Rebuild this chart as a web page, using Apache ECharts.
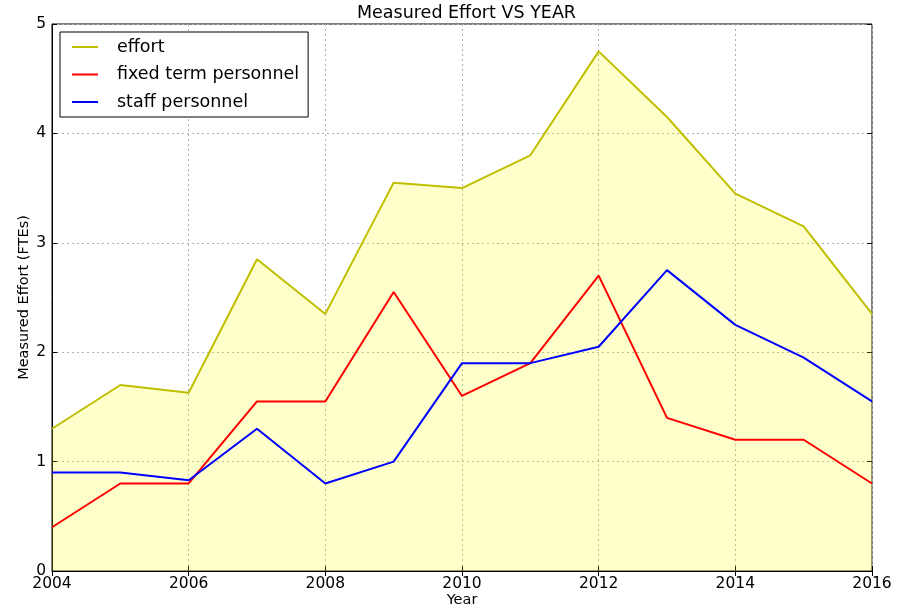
<!DOCTYPE html>
<html>
<head>
<meta charset="utf-8">
<script src="https://cdn.jsdelivr.net/npm/echarts@6/dist/echarts.min.js"></script>
<style>
  html, body { margin: 0; padding: 0; background: #fff; }
  #chart { width: 901px; height: 609px; }
</style>
</head>
<body>
<div id="chart"></div>
<script>
// Yearly measured effort (FTEs) and its split into personnel types
const years = [2004, 2005, 2006, 2007, 2008, 2009, 2010, 2011, 2012, 2013, 2014, 2015, 2016];
const effort = [1.3, 1.7, 1.63, 2.85, 2.35, 3.55, 3.5, 3.8, 4.75, 4.15, 3.45, 3.15, 2.35];
const fixedTerm = [0.4, 0.8, 0.8, 1.55, 1.55, 2.55, 1.6, 1.9, 2.7, 1.4, 1.2, 1.2, 0.8];
const staff = [0.9, 0.9, 0.83, 1.3, 0.8, 1.0, 1.9, 1.9, 2.05, 2.75, 2.25, 1.95, 1.55];
const seriesNames = ['effort', 'fixed term personnel', 'staff personnel'];

const pairs = vals => years.map((y, i) => [y, vals[i]]);
const FONT = 'DejaVu Sans';

const gridLine = { show: true, lineStyle: { color: '#b0b0b0', type: [2, 3], width: 1 } };
const tick = { show: true, inside: true, length: 5, lineStyle: { color: '#000' } };

const chart = echarts.init(document.getElementById('chart'), null, { renderer: 'canvas' });
chart.setOption({
  animation: false,
  backgroundColor: '#fff',
  textStyle: { fontFamily: FONT },
  title: {
    text: 'Measured Effort VS YEAR',
    left: 352,
    top: -1,
    textStyle: { fontFamily: FONT, fontSize: 17.5, fontWeight: 'normal', color: '#000' }
  },
  grid: {
    left: 52, right: 29, top: 24, bottom: 38,
    outerBoundsMode: 'none', containLabel: false,
    show: true, borderColor: '#000', borderWidth: 1, backgroundColor: 'transparent'
  },
  legend: {
    data: seriesNames,
    orient: 'vertical',
    left: 60, top: 32,
    padding: [6, 9, 6, 12],
    itemGap: 9.5,
    itemWidth: 26,
    itemHeight: 2,
    icon: 'rect',
    backgroundColor: '#fff',
    borderColor: '#000',
    borderWidth: 1,
    borderRadius: 0,
    textStyle: { fontFamily: FONT, fontSize: 17.5, color: '#000', padding: [0, 0, 0, 14] }
  },
  xAxis: [{
    type: 'value', min: 2004, max: 2016, interval: 2,
    name: 'Year', nameLocation: 'middle', nameGap: 22, nameMoveOverlap: false,
    nameTextStyle: { fontFamily: FONT, fontSize: 14.5, color: '#000' },
    axisLine: { show: true, lineStyle: { color: '#000' } },
    axisTick: tick,
    axisLabel: { fontFamily: FONT, fontSize: 15.5, color: '#000', margin: 5, formatter: v => String(v) },
    splitLine: gridLine
  }, {
    type: 'value', min: 2004, max: 2016, interval: 2, position: 'top',
    axisLine: { show: false }, axisTick: tick, axisLabel: { show: false }, splitLine: { show: false }
  }],
  yAxis: [{
    type: 'value', min: 0, max: 5, interval: 1,
    name: 'Measured Effort (FTEs)', nameLocation: 'middle', nameGap: 20, nameMoveOverlap: false,
    nameTextStyle: { fontFamily: FONT, fontSize: 14.5, color: '#000' },
    axisLine: { show: true, lineStyle: { color: '#000' } },
    axisTick: tick,
    axisLabel: { fontFamily: FONT, fontSize: 15.5, color: '#000', margin: 6 },
    splitLine: gridLine
  }, {
    type: 'value', min: 0, max: 5, interval: 1, position: 'right',
    axisLine: { show: false }, axisTick: tick, axisLabel: { show: false }, splitLine: { show: false }
  }],
  series: [{
    name: seriesNames[0], type: 'line', data: pairs(effort),
    showSymbol: false, color: '#bfbf00',
    lineStyle: { width: 2, color: '#bfbf00' },
    areaStyle: { color: 'rgba(255,255,0,0.2)', opacity: 1 },
    z: 2
  }, {
    name: seriesNames[1], type: 'line', data: pairs(fixedTerm),
    showSymbol: false, color: '#ff0000',
    lineStyle: { width: 2, color: '#ff0000' }, z: 3
  }, {
    name: seriesNames[2], type: 'line', data: pairs(staff),
    showSymbol: false, color: '#0000ff',
    lineStyle: { width: 2, color: '#0000ff' }, z: 4
  }]
});
</script>
</body>
</html>
